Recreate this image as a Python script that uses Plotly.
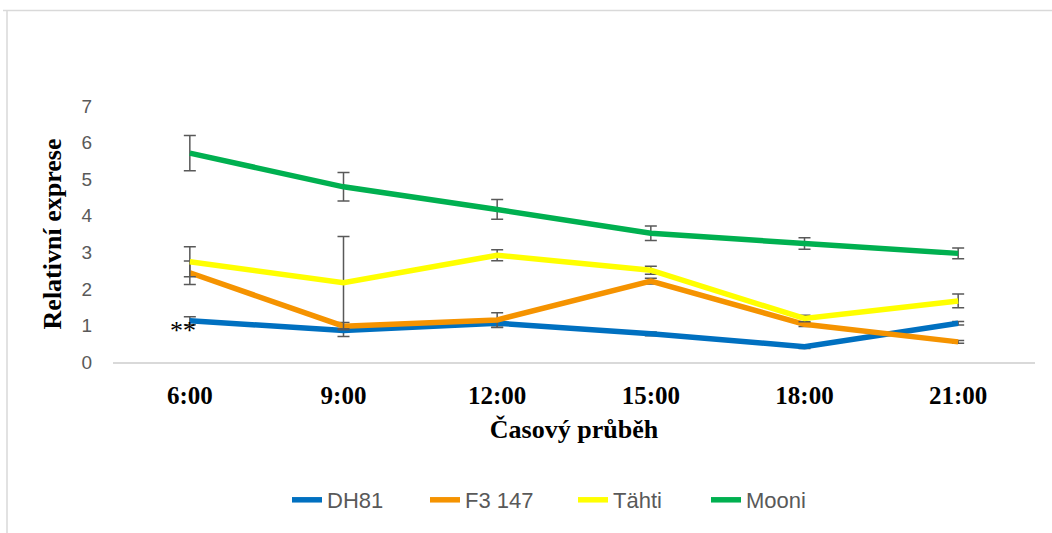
import plotly.graph_objects as go

# Time points and relative expression per line (mean ± error)
times = ["6:00", "9:00", "12:00", "15:00", "18:00", "21:00"]

dh81 = [1.13, 0.86, 1.06, 0.77, 0.42, 1.06]
dh81_err = [0.11, 0.16, 0.12, 0.05, 0.05, 0.05]

f3_147 = [2.44, 0.98, 1.15, 2.21, 1.03, 0.55]
f3_147_err = [0.32, 0.10, 0.20, 0.08, 0.06, 0.04]

tahti = [2.74, 2.17, 2.92, 2.51, 1.19, 1.67]
tahti_err = [0.41, 1.26, 0.15, 0.11, 0.09, 0.19]

mooni = [5.71, 4.79, 4.17, 3.52, 3.24, 2.97]
mooni_err = [0.48, 0.39, 0.27, 0.20, 0.16, 0.15]

series = [
    ("DH81", dh81, dh81_err, "#0070C0"),
    ("F3 147", f3_147, f3_147_err, "#F59300"),
    ("Tähti", tahti, tahti_err, "#FFFF00"),
    ("Mooni", mooni, mooni_err, "#00B050"),
]

W, H = 1052, 533
ml, mr, mt, mb = 113, 17, 106, 171
pw, ph = W - ml - mr, H - mt - mb


def px_x(p):
    return (p - ml) / pw


def px_y(p):
    return (H - mb - p) / ph


# left pixel where each legend entry's label starts
legend_text_x = [328, 466, 614, 747]
legend_ids = ["legend", "legend2", "legend3", "legend4"]

fig = go.Figure()
for (name, vals, errs, color), lid in zip(series, legend_ids):
    fig.add_trace(go.Scatter(
        x=times, y=vals, name=name, mode="lines", legend=lid,
        line=dict(color=color, width=5.5),
        error_y=dict(type="data", array=errs, visible=True,
                     color="#595959", thickness=1.5, width=6),
    ))

# significance mark next to the first DH81 point
fig.add_annotation(x=times[0], y=0.85, text="**", showarrow=False,
                   xshift=-7, font=dict(family="Liberation Serif", size=26, color="#000000"))

# chart frame (top and left edges)
frame = dict(color="#D9D9D9", width=1.5)
fig.add_shape(type="line", xref="paper", yref="paper",
              x0=px_x(3), x1=px_x(W), y0=px_y(10.5), y1=px_y(10.5), line=frame)
fig.add_shape(type="line", xref="paper", yref="paper",
              x0=px_x(7), x1=px_x(7), y0=px_y(10.5), y1=px_y(H), line=frame)

legend_font = dict(family="Liberation Sans", size=22, color="#595959")
legends = {}
for lid, tx in zip(legend_ids, legend_text_x):
    legends[lid] = dict(orientation="h", x=px_x(tx - 41), xanchor="left",
                        y=px_y(500), yanchor="middle", font=legend_font,
                        bgcolor="rgba(0,0,0,0)")

fig.update_layout(
    width=W, height=H,
    margin=dict(l=ml, r=mr, t=mt, b=mb),
    paper_bgcolor="white", plot_bgcolor="white",
    showlegend=True,
    **legends,
    xaxis=dict(
        type="category", range=[-0.5, 5.5],
        showgrid=False, zeroline=False, showline=True,
        linecolor="#D9D9D9", linewidth=1.5,
        ticks="", ticklabelstandoff=10,
        tickfont=dict(family="Liberation Serif", size=25, color="#000000", weight="bold"),
        title=dict(text="<b>Časový průběh</b>", standoff=12,
                   font=dict(family="Liberation Serif", size=26, color="#000000")),
    ),
    yaxis=dict(
        range=[0, 7], dtick=1, showgrid=False, zeroline=False, showline=False,
        ticks="", ticklabelstandoff=20,
        tickfont=dict(family="Liberation Sans", size=19, color="#595959"),
        title=dict(text="<b>Relativní exprese</b>", standoff=12,
                   font=dict(family="Liberation Serif", size=26, color="#000000")),
    ),
)

fig.write_html("out.html")
